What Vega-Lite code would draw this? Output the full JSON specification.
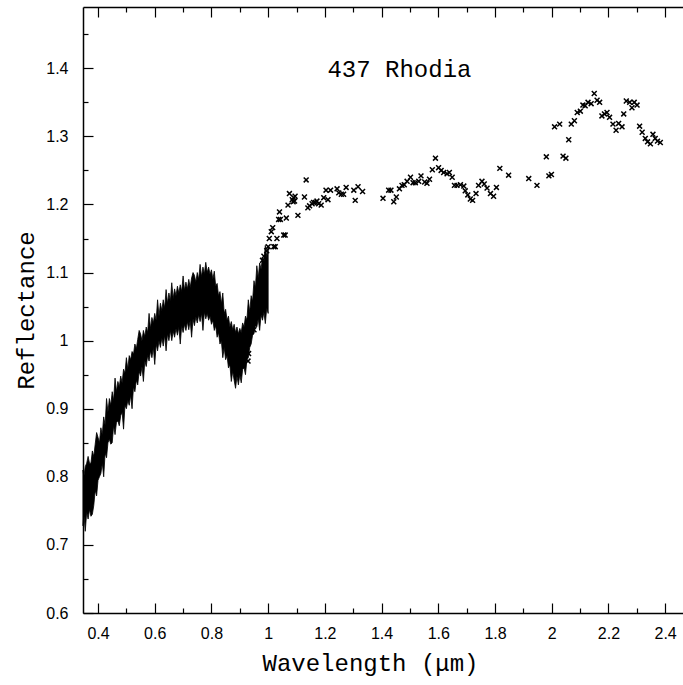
{
  "$schema": "https://vega.github.io/schema/vega-lite/v6.json",
  "width": 600,
  "height": 606,
  "autosize": {"type": "none"},
  "padding": {"left": 83, "top": 7, "right": 0, "bottom": 72},
  "background": "white",
  "config": {
    "view": {"stroke": null},
    "axis": {
      "domainColor": "black",
      "domainWidth": 1.5,
      "tickColor": "black",
      "tickWidth": 1.2,
      "grid": false,
      "labelFont": "Liberation Sans",
      "labelFontSize": 16,
      "labelColor": "black",
      "titleFont": "Liberation Mono",
      "titleFontSize": 24,
      "titleFontWeight": "normal",
      "titleColor": "black"
    }
  },
  "datasets": {
    "spec": [
      {"w":0.347,"lo":0.728,"hi":0.81},{"w":0.350,"lo":0.745,"hi":0.80},{"w":0.355,"lo":0.72,"hi":0.815},{"w":0.360,"lo":0.748,"hi":0.82},{"w":0.365,"lo":0.738,"hi":0.83},{"w":0.370,"lo":0.752,"hi":0.82},{"w":0.375,"lo":0.742,"hi":0.82},{"w":0.380,"lo":0.745,"hi":0.838},{"w":0.385,"lo":0.758,"hi":0.83},{"w":0.390,"lo":0.78,"hi":0.848},{"w":0.395,"lo":0.772,"hi":0.865},{"w":0.400,"lo":0.795,"hi":0.858},{"w":0.405,"lo":0.80,"hi":0.85},{"w":0.410,"lo":0.805,"hi":0.872},{"w":0.415,"lo":0.82,"hi":0.862},{"w":0.420,"lo":0.80,"hi":0.888},{"w":0.425,"lo":0.835,"hi":0.876},{"w":0.430,"lo":0.828,"hi":0.915},{"w":0.435,"lo":0.85,"hi":0.895},{"w":0.440,"lo":0.855,"hi":0.915},{"w":0.445,"lo":0.848,"hi":0.905},{"w":0.450,"lo":0.85,"hi":0.925},{"w":0.455,"lo":0.875,"hi":0.912},{"w":0.460,"lo":0.862,"hi":0.945},{"w":0.465,"lo":0.88,"hi":0.925},{"w":0.470,"lo":0.882,"hi":0.94},{"w":0.475,"lo":0.875,"hi":0.932},{"w":0.480,"lo":0.89,"hi":0.948},{"w":0.485,"lo":0.895,"hi":0.938},{"w":0.490,"lo":0.87,"hi":0.958},{"w":0.495,"lo":0.905,"hi":0.952},{"w":0.500,"lo":0.9,"hi":0.975},{"w":0.505,"lo":0.912,"hi":0.958},{"w":0.510,"lo":0.905,"hi":0.978},{"w":0.515,"lo":0.92,"hi":0.972},{"w":0.520,"lo":0.9,"hi":0.984},{"w":0.525,"lo":0.932,"hi":0.98},{"w":0.530,"lo":0.925,"hi":0.995},{"w":0.535,"lo":0.942,"hi":0.988},{"w":0.540,"lo":0.935,"hi":1.002},{"w":0.545,"lo":0.955,"hi":1.015},{"w":0.550,"lo":0.948,"hi":1.01},{"w":0.555,"lo":0.962,"hi":1.0},{"w":0.560,"lo":0.94,"hi":1.015},{"w":0.565,"lo":0.97,"hi":1.006},{"w":0.570,"lo":0.962,"hi":1.02},{"w":0.575,"lo":0.978,"hi":1.012},{"w":0.580,"lo":0.97,"hi":1.04},{"w":0.585,"lo":0.985,"hi":1.018},{"w":0.590,"lo":0.975,"hi":1.034},{"w":0.595,"lo":0.99,"hi":1.026},{"w":0.600,"lo":0.965,"hi":1.04},{"w":0.605,"lo":0.995,"hi":1.03},{"w":0.610,"lo":0.985,"hi":1.06},{"w":0.615,"lo":1.0,"hi":1.036},{"w":0.620,"lo":0.99,"hi":1.055},{"w":0.625,"lo":1.004,"hi":1.044},{"w":0.630,"lo":0.992,"hi":1.06},{"w":0.635,"lo":1.008,"hi":1.048},{"w":0.640,"lo":0.985,"hi":1.075},{"w":0.645,"lo":1.01,"hi":1.055},{"w":0.650,"lo":1.0,"hi":1.07},{"w":0.655,"lo":1.015,"hi":1.058},{"w":0.660,"lo":1.0,"hi":1.085},{"w":0.665,"lo":1.014,"hi":1.062},{"w":0.670,"lo":1.005,"hi":1.076},{"w":0.675,"lo":1.018,"hi":1.066},{"w":0.680,"lo":1.008,"hi":1.08},{"w":0.685,"lo":1.02,"hi":1.07},{"w":0.690,"lo":0.995,"hi":1.082},{"w":0.695,"lo":1.022,"hi":1.072},{"w":0.700,"lo":1.012,"hi":1.095},{"w":0.705,"lo":1.024,"hi":1.074},{"w":0.710,"lo":1.015,"hi":1.086},{"w":0.715,"lo":1.028,"hi":1.076},{"w":0.720,"lo":1.016,"hi":1.09},{"w":0.725,"lo":1.03,"hi":1.078},{"w":0.730,"lo":1.005,"hi":1.092},{"w":0.735,"lo":1.032,"hi":1.1},{"w":0.740,"lo":1.022,"hi":1.096},{"w":0.745,"lo":1.035,"hi":1.086},{"w":0.750,"lo":1.026,"hi":1.1},{"w":0.755,"lo":1.038,"hi":1.09},{"w":0.760,"lo":1.028,"hi":1.112},{"w":0.765,"lo":1.04,"hi":1.094},{"w":0.770,"lo":1.015,"hi":1.108},{"w":0.775,"lo":1.042,"hi":1.098},{"w":0.780,"lo":1.032,"hi":1.115},{"w":0.785,"lo":1.04,"hi":1.1},{"w":0.790,"lo":1.03,"hi":1.108},{"w":0.795,"lo":1.036,"hi":1.097},{"w":0.800,"lo":1.024,"hi":1.104},{"w":0.805,"lo":1.03,"hi":1.09},{"w":0.810,"lo":1.015,"hi":1.102},{"w":0.815,"lo":1.022,"hi":1.08},{"w":0.820,"lo":1.005,"hi":1.084},{"w":0.825,"lo":1.012,"hi":1.066},{"w":0.830,"lo":0.995,"hi":1.072},{"w":0.835,"lo":1.0,"hi":1.054},{"w":0.840,"lo":0.975,"hi":1.07},{"w":0.845,"lo":0.99,"hi":1.04},{"w":0.850,"lo":0.972,"hi":1.046},{"w":0.855,"lo":0.978,"hi":1.03},{"w":0.860,"lo":0.96,"hi":1.036},{"w":0.865,"lo":0.965,"hi":1.02},{"w":0.870,"lo":0.94,"hi":1.028},{"w":0.875,"lo":0.955,"hi":1.016},{"w":0.880,"lo":0.942,"hi":1.024},{"w":0.885,"lo":0.93,"hi":1.012},{"w":0.890,"lo":0.948,"hi":1.02},{"w":0.895,"lo":0.935,"hi":1.01},{"w":0.900,"lo":0.95,"hi":1.018},{"w":0.905,"lo":0.938,"hi":1.012},{"w":0.910,"lo":0.958,"hi":1.026},{"w":0.915,"lo":0.96,"hi":1.02},{"w":0.920,"lo":0.95,"hi":1.036},{"w":0.925,"lo":0.972,"hi":1.03},{"w":0.930,"lo":0.975,"hi":1.06},{"w":0.935,"lo":0.99,"hi":1.042},{"w":0.940,"lo":0.995,"hi":1.066},{"w":0.945,"lo":1.008,"hi":1.058},{"w":0.950,"lo":1.01,"hi":1.088},{"w":0.955,"lo":1.022,"hi":1.078},{"w":0.960,"lo":1.02,"hi":1.11},{"w":0.965,"lo":1.032,"hi":1.092},{"w":0.970,"lo":1.015,"hi":1.114},{"w":0.975,"lo":1.038,"hi":1.105},{"w":0.980,"lo":1.03,"hi":1.122},{"w":0.985,"lo":1.042,"hi":1.115},{"w":0.990,"lo":1.025,"hi":1.14},{"w":0.995,"lo":1.048,"hi":1.122},{"w":1.000,"lo":1.04,"hi":1.136}
    ],
    "pts": [
      {"w":0.929,"r":0.97},{"w":0.931,"r":0.981},{"w":0.946,"r":1.026},{"w":0.95,"r":1.016},{"w":0.958,"r":1.035},{"w":0.98,"r":1.118},{"w":0.985,"r":1.124},{"w":0.995,"r":1.132},{"w":1.0,"r":1.138},{"w":1.02,"r":1.138},{"w":1.025,"r":1.138},{"w":1.004,"r":1.15},{"w":1.031,"r":1.15},{"w":1.011,"r":1.16},{"w":1.016,"r":1.166},{"w":1.055,"r":1.155},{"w":1.06,"r":1.155},{"w":1.037,"r":1.178},{"w":1.043,"r":1.178},{"w":1.064,"r":1.18},{"w":1.04,"r":1.189},{"w":1.07,"r":1.199},{"w":1.075,"r":1.216},{"w":1.085,"r":1.207},{"w":1.09,"r":1.21},{"w":1.095,"r":1.212},{"w":1.088,"r":1.204},{"w":1.093,"r":1.205},{"w":1.105,"r":1.184},{"w":1.128,"r":1.211},{"w":1.134,"r":1.236},{"w":1.14,"r":1.195},{"w":1.146,"r":1.198},{"w":1.155,"r":1.201},{"w":1.16,"r":1.203},{"w":1.166,"r":1.203},{"w":1.172,"r":1.205},{"w":1.178,"r":1.201},{"w":1.187,"r":1.199},{"w":1.196,"r":1.21},{"w":1.204,"r":1.221},{"w":1.22,"r":1.221},{"w":1.211,"r":1.207},{"w":1.243,"r":1.223},{"w":1.249,"r":1.217},{"w":1.258,"r":1.215},{"w":1.266,"r":1.215},{"w":1.275,"r":1.225},{"w":1.302,"r":1.221},{"w":1.317,"r":1.226},{"w":1.333,"r":1.219},{"w":1.307,"r":1.206},{"w":1.405,"r":1.209},{"w":1.425,"r":1.221},{"w":1.433,"r":1.221},{"w":1.443,"r":1.204},{"w":1.452,"r":1.211},{"w":1.463,"r":1.223},{"w":1.472,"r":1.228},{"w":1.48,"r":1.229},{"w":1.49,"r":1.234},{"w":1.502,"r":1.24},{"w":1.511,"r":1.232},{"w":1.519,"r":1.232},{"w":1.531,"r":1.234},{"w":1.539,"r":1.242},{"w":1.552,"r":1.233},{"w":1.56,"r":1.231},{"w":1.569,"r":1.237},{"w":1.579,"r":1.251},{"w":1.59,"r":1.268},{"w":1.601,"r":1.254},{"w":1.61,"r":1.25},{"w":1.619,"r":1.247},{"w":1.631,"r":1.245},{"w":1.639,"r":1.247},{"w":1.649,"r":1.24},{"w":1.657,"r":1.228},{"w":1.666,"r":1.228},{"w":1.678,"r":1.229},{"w":1.69,"r":1.227},{"w":1.695,"r":1.22},{"w":1.704,"r":1.214},{"w":1.713,"r":1.208},{"w":1.721,"r":1.206},{"w":1.733,"r":1.216},{"w":1.742,"r":1.228},{"w":1.754,"r":1.234},{"w":1.762,"r":1.23},{"w":1.772,"r":1.224},{"w":1.784,"r":1.216},{"w":1.795,"r":1.212},{"w":1.805,"r":1.225},{"w":1.817,"r":1.253},{"w":1.848,"r":1.243},{"w":1.919,"r":1.238},{"w":1.948,"r":1.228},{"w":1.981,"r":1.27},{"w":1.99,"r":1.242},{"w":1.999,"r":1.244},{"w":2.01,"r":1.314},{"w":2.028,"r":1.318},{"w":2.04,"r":1.271},{"w":2.05,"r":1.268},{"w":2.06,"r":1.295},{"w":2.069,"r":1.318},{"w":2.08,"r":1.323},{"w":2.09,"r":1.335},{"w":2.101,"r":1.337},{"w":2.11,"r":1.346},{"w":2.118,"r":1.345},{"w":2.128,"r":1.35},{"w":2.139,"r":1.348},{"w":2.15,"r":1.363},{"w":2.16,"r":1.353},{"w":2.169,"r":1.35},{"w":2.177,"r":1.33},{"w":2.186,"r":1.333},{"w":2.195,"r":1.335},{"w":2.204,"r":1.328},{"w":2.216,"r":1.318},{"w":2.227,"r":1.309},{"w":2.236,"r":1.319},{"w":2.248,"r":1.314},{"w":2.254,"r":1.333},{"w":2.263,"r":1.352},{"w":2.275,"r":1.35},{"w":2.283,"r":1.342},{"w":2.291,"r":1.35},{"w":2.301,"r":1.346},{"w":2.31,"r":1.315},{"w":2.319,"r":1.306},{"w":2.33,"r":1.297},{"w":2.338,"r":1.292},{"w":2.348,"r":1.289},{"w":2.357,"r":1.303},{"w":2.365,"r":1.297},{"w":2.373,"r":1.293},{"w":2.383,"r":1.291}
    ]
  },
  "layer": [
    {
      "data": {"name": "spec"},
      "mark": {"type": "area", "color": "black", "stroke": "black", "strokeWidth": 0.8},
      "encoding": {
        "x": {
          "field": "w", "type": "quantitative",
          "scale": {"domain": [0.347, 2.463], "nice": false, "zero": false},
          "axis": {
            "orient": "bottom",
            "values": [0.4,0.5,0.6,0.7,0.8,0.9,1,1.1,1.2,1.3,1.4,1.5,1.6,1.7,1.8,1.9,2,2.1,2.2,2.3,2.4],
            "labelExpr": "round(datum.value*10)%2==0 ? toString(datum.value) : ''",
            "tickSize": {"condition": {"test": "round(datum.value*10)%2==0", "value": -10}, "value": -5},
            "labelPadding": 22,
            "labelFlush": false,
            "labelOverlap": false,
            "title": "Wavelength (μm)",
            "titleX": 287,
            "titleY": 57,
            "titleAlign": "center",
            "titleBaseline": "alphabetic"
          }
        },
        "y": {
          "field": "lo", "type": "quantitative",
          "scale": {"domain": [0.6, 1.49], "nice": false, "zero": false},
          "axis": {
            "orient": "left",
            "values": [0.6,0.65,0.7,0.75,0.8,0.85,0.9,0.95,1,1.05,1.1,1.15,1.2,1.25,1.3,1.35,1.4,1.45],
            "labelExpr": "round(datum.value*20)%2==0 ? toString(datum.value) : ''",
            "tickSize": {"condition": {"test": "round(datum.value*20)%2==0", "value": -10}, "value": -5},
            "labelPadding": 25,
            "labelFlush": false,
            "labelOverlap": false,
            "title": "Reflectance",
            "titleX": -50,
            "titleY": 303,
            "titleAlign": "center",
            "titleBaseline": "alphabetic",
            "titleAngle": -90
          }
        },
        "y2": {"field": "hi"}
      }
    },
    {
      "data": {"name": "pts"},
      "mark": {"type": "point", "shape": "M-1,-1L1,1M-1,1L1,-1", "filled": false, "stroke": "black", "strokeWidth": 1.5, "size": 24, "opacity": 1},
      "encoding": {
        "x": {
          "field": "w", "type": "quantitative",
          "axis": {
            "orient": "top",
            "values": [0.4,0.5,0.6,0.7,0.8,0.9,1,1.1,1.2,1.3,1.4,1.5,1.6,1.7,1.8,1.9,2,2.1,2.2,2.3,2.4],
            "labels": false,
            "tickSize": {"condition": {"test": "round(datum.value*10)%2==0", "value": -10}, "value": -5},
            "title": null
          }
        },
        "y": {"field": "r", "type": "quantitative", "axis": null}
      }
    },
    {
      "data": {"values": [{"w": 1.463, "r": 1.387, "t": "437 Rhodia"}]},
      "mark": {"type": "text", "font": "Liberation Mono", "fontSize": 24, "baseline": "alphabetic", "align": "center", "color": "black"},
      "encoding": {
        "x": {"field": "w", "type": "quantitative", "axis": null},
        "y": {"field": "r", "type": "quantitative", "axis": null},
        "text": {"field": "t"}
      }
    }
  ],
  "resolve": {"axis": {"x": "independent", "y": "independent"}}
}
